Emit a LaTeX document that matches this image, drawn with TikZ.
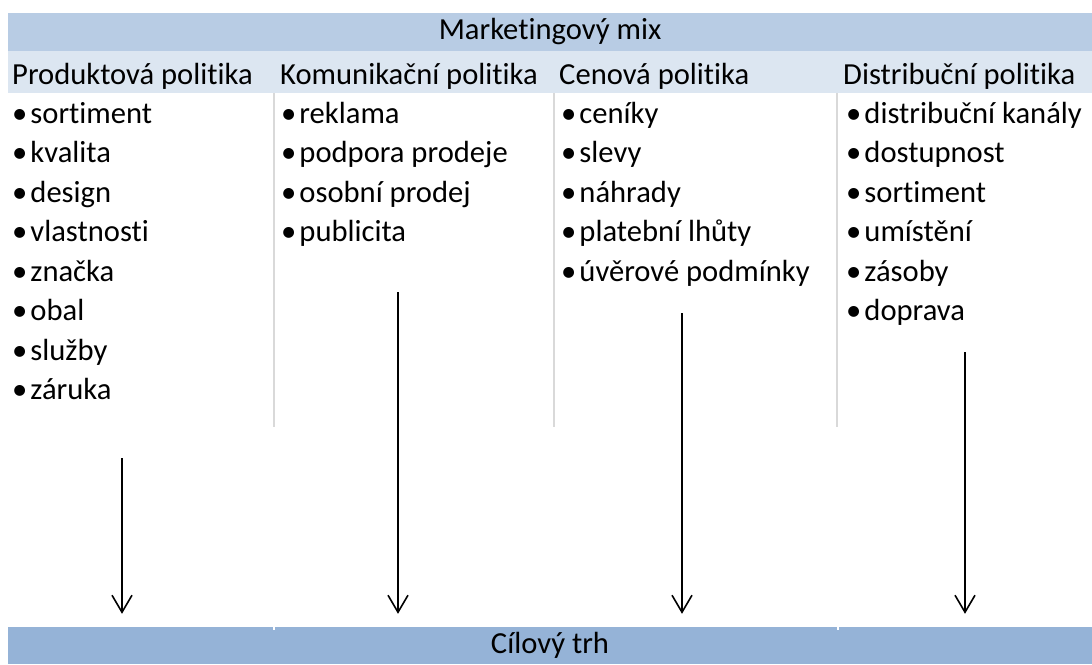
\documentclass[tikz,border=0pt]{standalone}
\usepackage{fontspec}
\setmainfont[Ligatures={NoCommon}]{Carlito}
\usetikzlibrary{arrows.meta}
\definecolor{hlava}{HTML}{B8CCE4}
\definecolor{radek}{HTML}{DCE6F1}
\definecolor{pata}{HTML}{95B3D7}
\definecolor{sede}{HTML}{D9D9D9}
\newcommand{\velke}{\fontsize{30.6}{36}\selectfont}
\newcommand{\tecka}{•\hspace{3pt}}
\tikzstyle{pas}=[rectangle, inner sep=0pt, minimum width=1084pt, font=\velke]
\tikzstyle{bod}=[anchor=base west, inner sep=0pt, font=\velke]
\newcommand{\bod}{\node[bod]}

\begin{document}
\begin{tikzpicture}[x=1pt, y=-1pt
    ,sipka/.style={draw, line width=1.6pt, shorten >=13pt,
        -{Straight Barb[length=17pt, width=20pt, line width=1.6pt]}}
    ,delic/.style={draw=sede, line width=2pt}
]
\useasboundingbox (0,0) rectangle (1092,664);
% pasy
\node[pas, fill=hlava, minimum height=38pt] (mix) at (550,32) {Marketingový mix};
\node[pas, fill=radek, minimum height=42pt] (hlavicka) at (550,72) {};
\node[pas, fill=pata, minimum height=37pt] (cil) at (550,645.5) {Cílový trh};
% delici cary
\draw[delic] (274,93) -- (274,427);
\draw[delic] (554,93) -- (554,427);
\draw[delic] (837,93) -- (837,427);
\draw[white, line width=2pt] (274,627) -- (274,630);
\draw[white, line width=2pt] (838,627) -- (838,630);
% nadpisy sloupcu
\bod (produkt) at (12,84) {Produktová politika};
\bod (komunikace) at (280,84) {Komunikační politika};
\bod (cena) at (559,84) {Cenová politika};
\bod (distribuce) at (843,84) {Distribuční politika};
% produktova politika
\bod (p1) at (12,123) {\tecka sortiment};
\bod (p2) at (12,162.5) {\tecka kvalita};
\bod (p3) at (12,202) {\tecka design};
\bod (p4) at (12,241.5) {\tecka vlastnosti};
\bod (p5) at (12,281) {\tecka značka};
\bod (p6) at (12,320.5) {\tecka obal};
\bod (p7) at (12,360) {\tecka služby};
\bod (p8) at (12,399.5) {\tecka záruka};
% komunikacni politika
\bod (k1) at (281,123) {\tecka reklama};
\bod (k2) at (281,162.5) {\tecka podpora prodeje};
\bod (k3) at (281,202) {\tecka osobní prodej};
\bod (k4) at (281,241.5) {\tecka publicita};
% cenova politika
\bod (c1) at (561,123) {\tecka ceníky};
\bod (c2) at (561,162.5) {\tecka slevy};
\bod (c3) at (561,202) {\tecka náhrady};
\bod (c4) at (561,241.5) {\tecka platební lhůty};
\bod (c5) at (561,281) {\tecka úvěrové podmínky};
% distribucni politika
\bod (d1) at (846,123) {\tecka distribuční kanály};
\bod (d2) at (846,162.5) {\tecka dostupnost};
\bod (d3) at (846,202) {\tecka sortiment};
\bod (d4) at (846,241.5) {\tecka umístění};
\bod (d5) at (846,281) {\tecka zásoby};
\bod (d6) at (846,320.5) {\tecka doprava};
% sipky
\coordinate (s1) at (122,458);
\coordinate (s2) at (398,292);
\coordinate (s3) at (682,313);
\coordinate (s4) at (965,352);
\path (s1) edge[sipka] (s1 |- cil.north)
      (s2) edge[sipka] (s2 |- cil.north)
      (s3) edge[sipka] (s3 |- cil.north)
      (s4) edge[sipka] (s4 |- cil.north);
\end{tikzpicture}
\end{document}
